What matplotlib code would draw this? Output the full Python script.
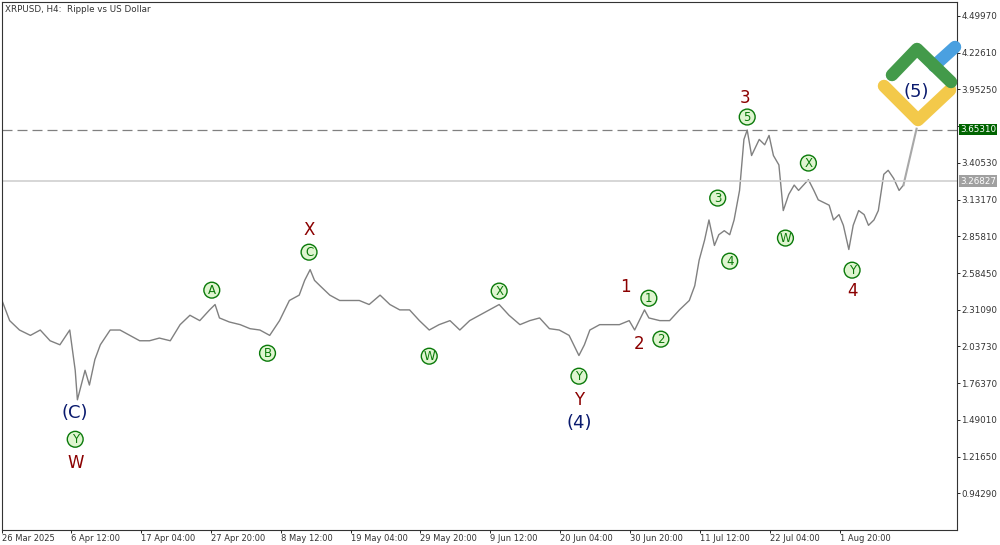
import numpy as np
import matplotlib.pyplot as plt
from matplotlib.lines import Line2D

# 4-hour bars since 26 Mar 2025 00:00
bars = [0, 7, 16, 26, 35, 44, 53, 62, 67, 69, 76, 80, 85, 90, 99, 108, 117, 126, 135, 144,
        154, 163, 172, 181, 190, 195, 199, 208, 218, 227, 236, 245, 254, 263, 272, 277, 282,
        286, 291, 300, 309, 318, 327, 336, 346, 355, 364, 373, 382, 391, 400, 410, 419, 428,
        437, 446, 455, 464, 474, 483, 492, 501, 510, 519, 528, 533, 538, 547, 556, 565, 574,
        579, 588, 592, 602, 611, 620, 629, 634, 638, 643, 647, 652, 656, 661, 666, 670, 675,
        679, 682, 686, 693, 698, 702, 706, 711, 715, 720, 725, 729, 738, 743, 747, 757, 761,
        766, 770, 775, 779, 784, 789, 793, 798, 802, 807, 811, 816, 821, 825]
price = [2.38, 2.23, 2.16, 2.12, 2.16, 2.08, 2.05, 2.16, 1.86, 1.64, 1.86, 1.75, 1.94, 2.05,
         2.16, 2.16, 2.12, 2.08, 2.08, 2.10, 2.08, 2.20, 2.27, 2.23, 2.31, 2.35, 2.25, 2.22,
         2.20, 2.17, 2.16, 2.12, 2.23, 2.38, 2.42, 2.53, 2.61, 2.53, 2.49, 2.42, 2.38, 2.38,
         2.38, 2.35, 2.42, 2.35, 2.31, 2.31, 2.23, 2.16, 2.20, 2.23, 2.16, 2.23, 2.27, 2.31,
         2.35, 2.27, 2.20, 2.23, 2.25, 2.17, 2.16, 2.12, 1.97, 2.05, 2.16, 2.20, 2.20, 2.20,
         2.23, 2.16, 2.31, 2.25, 2.23, 2.23, 2.31, 2.38, 2.49, 2.68, 2.83, 2.98, 2.79, 2.87,
         2.90, 2.87, 2.98, 3.20, 3.58, 3.65, 3.46, 3.58, 3.54, 3.61, 3.46, 3.39, 3.05, 3.17,
         3.24, 3.20, 3.28, 3.20, 3.13, 3.09, 2.98, 3.02, 2.94, 2.76, 2.94, 3.05, 3.02, 2.94,
         2.98, 3.05, 3.32, 3.35, 3.29, 3.20, 3.24]
proj_bars = [825, 837]
proj_price = [3.24, 3.66]

ask_level = 3.65310
bid_level = 3.26827
yticks = [0.94290, 1.21650, 1.49010, 1.76370, 2.03730, 2.31090, 2.58450, 2.85810,
          3.13170, 3.40530, 3.67890, 3.95250, 4.22610, 4.49970]

circled = [("Y", 67, 1.346), ("A", 192, 2.457), ("B", 243, 1.987), ("C", 281, 2.740),
           ("W", 391, 1.965), ("X", 455, 2.450), ("Y", 528, 1.816), ("1", 592, 2.397),
           ("2", 603, 2.092), ("3", 655, 3.143), ("4", 666, 2.673), ("5", 682, 3.747),
           ("W", 717, 2.845), ("X", 738, 3.404), ("Y", 778, 2.606)]
red_labels = [("W", 67, 1.167), ("X", 281, 2.904), ("Y", 528, 1.637), ("1", 571, 2.479),
              ("2", 583, 2.054), ("3", 680, 3.888), ("4", 778, 2.450)]
navy_labels = [("(C)", 67, 1.540), ("(4)", 528, 1.465), ("(5)", 837, 3.933)]

tick_bars = [0, 63, 127, 191, 255, 319, 383, 447, 511, 575, 639, 703, 767]
tick_labels = ["26 Mar 2025", "6 Apr 12:00", "17 Apr 04:00", "27 Apr 20:00", "8 May 12:00",
               "19 May 04:00", "29 May 20:00", "9 Jun 12:00", "20 Jun 04:00", "30 Jun 20:00",
               "11 Jul 12:00", "22 Jul 04:00", "1 Aug 20:00"]

fig = plt.figure(figsize=(10, 5.45), dpi=100)
ax = fig.add_axes([0.002, 1 - 530 / 545, 0.955, 528 / 545])
ax.set_xlim(0, 874)
ax.set_ylim(0.67, 4.604)

ax.plot(bars, price, color="#808080", lw=1.0)
ax.plot(proj_bars, proj_price, color="#a8a8a8", lw=1.5)
ax.axhline(ask_level, color="#808080", lw=0.9, ls=(0, (8, 4)))
ax.axhline(bid_level, color="#d0d0d0", lw=1.2)

for txt, b, p in circled:
    ax.text(b, p, txt, color="#0a7a0a", fontsize=8.5, ha="center", va="center",
            bbox=dict(boxstyle="circle,pad=0.12", fc="#dff5d0", ec="#0a7a0a", lw=1))
for txt, b, p in red_labels:
    ax.text(b, p, txt, color="#8b0000", fontsize=12, ha="center", va="center")
for txt, b, p in navy_labels:
    ax.text(b, p, txt, color="#0a1a6e", fontsize=13, ha="center", va="center")

ax.yaxis.tick_right()
ax.set_yticks(yticks)
ax.set_yticklabels(["" if abs(v - 3.6789) < 1e-6 else "%.5f" % v for v in yticks],
                   fontsize=6.3, color="#333333")
ax.set_xticks(tick_bars)
ax.set_xticklabels(tick_labels, fontsize=6, color="#333333", ha="left")
ax.tick_params(length=2, width=0.6, pad=1)
for s in ax.spines.values():
    s.set_linewidth(0.8)
    s.set_color("#333333")

ax.text(1.003, ask_level, "%.5f" % ask_level, transform=ax.get_yaxis_transform(),
        fontsize=6.3, color="white", va="center", ha="left",
        bbox=dict(boxstyle="square,pad=0.15", fc="#006400", ec="none"))
ax.text(1.003, bid_level, "%.5f" % bid_level, transform=ax.get_yaxis_transform(),
        fontsize=6.3, color="white", va="center", ha="left",
        bbox=dict(boxstyle="square,pad=0.15", fc="#a0a0a0", ec="none"))
ax.text(0.003, 0.995, "XRPUSD, H4:  Ripple vs US Dollar", transform=ax.transAxes,
        fontsize=6.3, color="#333333", va="top")

# logo
def fl(xs, ys, color):
    fig.add_artist(Line2D([x / 1000 for x in xs], [1 - y / 545 for y in ys], color=color,
                          lw=9, solid_capstyle="round", solid_joinstyle="round"))
fl([884, 918, 950], [86, 120, 90], "#f3c94a")
fl([934, 955], [66, 47], "#4aa0e0")
fl([892, 917, 951], [75, 49, 82], "#439a4a")

fig.savefig("out.png", dpi=100)
